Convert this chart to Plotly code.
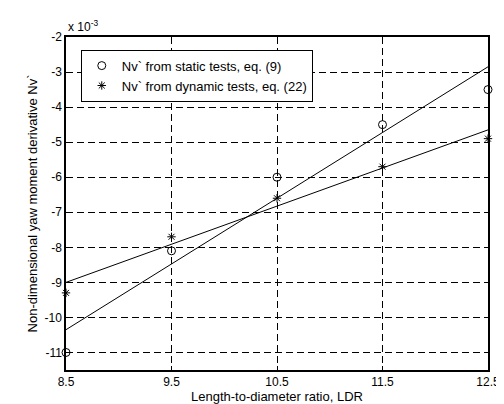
import plotly.graph_objects as go

ldr = [8.5, 9.5, 10.5, 11.5, 12.5]
static_nv = [-11.0, -8.1, -6.0, -4.5, -3.5]
dynamic_nv = [-9.3, -7.7, -6.6, -5.7, -4.9]
fit_x = [8.5, 12.5]
static_fit = [-10.35, -2.85]
dynamic_fit = [-9.0, -4.65]
x_ticks = [8.5, 9.5, 10.5, 11.5, 12.5]
y_ticks = [-2, -3, -4, -5, -6, -7, -8, -9, -10, -11]

fam = "Liberation Sans, Arial, sans-serif"
tick_font = dict(family=fam, size=12, color="black")
title_font = dict(family=fam, size=13, color="black")

fig = go.Figure()
fig.add_trace(go.Scatter(x=ldr, y=static_nv, mode="markers", name="Nv` from static tests, eq. (9)",
                         marker=dict(symbol="circle-open", size=8, color="black", line=dict(width=1)),
                         cliponaxis=False))
fig.add_trace(go.Scatter(x=ldr, y=dynamic_nv, mode="markers", name="Nv` from dynamic tests, eq. (22)",
                         marker=dict(symbol="asterisk-open", size=7, color="black", line=dict(width=1, color="black")),
                         cliponaxis=False))
fig.add_trace(go.Scatter(x=fit_x, y=static_fit, mode="lines", showlegend=False,
                         line=dict(color="black", width=1)))
fig.add_trace(go.Scatter(x=fit_x, y=dynamic_fit, mode="lines", showlegend=False,
                         line=dict(color="black", width=1)))

axis_common = dict(showline=True, linecolor="black", linewidth=1.5, mirror="all",
                   ticks="inside", ticklen=4, tickcolor="black",
                   showgrid=True, gridcolor="black", griddash="7px,4px", gridwidth=0.8,
                   zeroline=False, tickfont=tick_font)

fig.update_xaxes(range=[8.5, 12.5], tickvals=x_ticks, ticktext=[str(v) for v in x_ticks],
                 title=dict(text="Length-to-diameter ratio, LDR", font=title_font, standoff=2), **axis_common)
fig.update_yaxes(range=[-11.5, -2], tickvals=y_ticks, ticktext=[str(v) for v in y_ticks],
                 title=dict(text="Non-dimensional yaw moment derivative Nv`", font=title_font, standoff=4), **axis_common)

fig.update_layout(
    width=504, height=404,
    margin=dict(l=58, r=15, t=29, b=36),
    plot_bgcolor="white", paper_bgcolor="white",
    font=tick_font,
    legend=dict(x=0.035, y=0.962, xanchor="left", yanchor="top",
                bordercolor="black", borderwidth=1, bgcolor="white",
                font=title_font, tracegroupgap=0, itemwidth=30),
    annotations=[dict(text="x 10<sup>-3</sup>", xref="paper", yref="paper", x=0, y=1,
                      xanchor="left", yanchor="bottom", showarrow=False, font=tick_font, yshift=1)],
)

fig.write_html("out.html")
